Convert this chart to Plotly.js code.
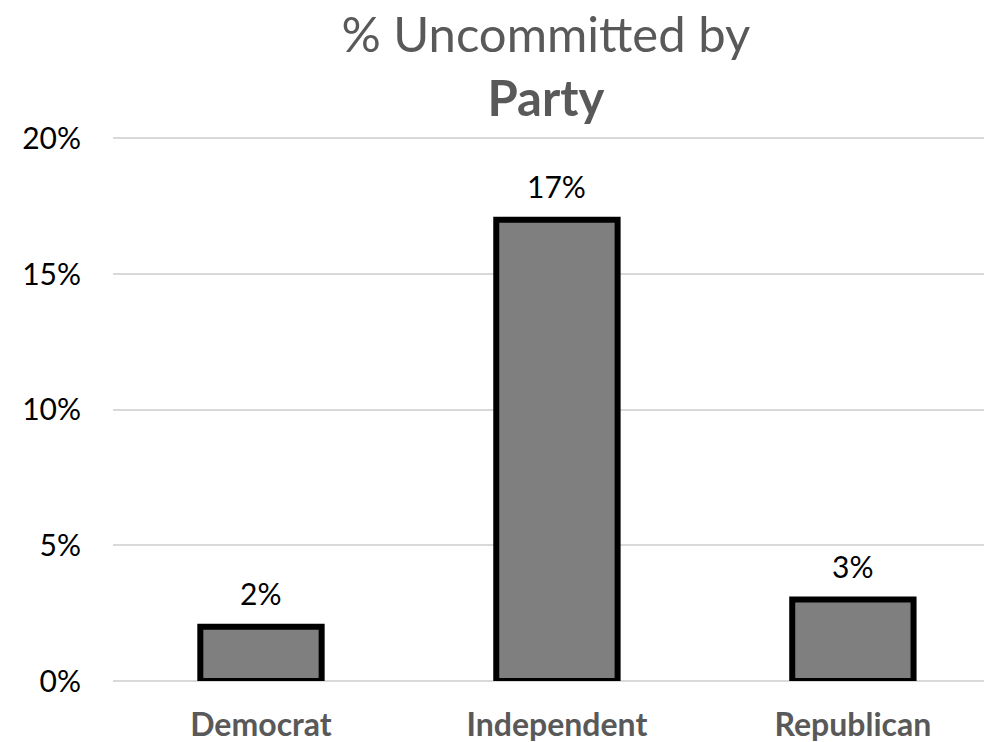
<!DOCTYPE html>
<html>
<head>
<meta charset="utf-8">
<script src="https://cdn.plot.ly/plotly-3.0.1.min.js"></script>
<style>html,body{margin:0;padding:0;background:#fff;}#chart{width:984px;height:742px;}</style>
</head>
<body>
<div id="chart"></div>
<script>
const categories = ["Democrat", "Independent", "Republican"];
const values = [2, 17, 3];
const labels = ["2%", "17%", "3%"];
const yTickVals = [0, 5, 10, 15, 20];
const yTickText = ["0%", "5%", "10%", "15%", "20%"];

const trace = {
  type: "bar",
  x: categories,
  y: values,
  width: 0.41,
  marker: { color: "#7f7f7f", line: { color: "#000000", width: 6 } },
  hoverinfo: "skip"
};

const annotations = categories.map((c, i) => ({
  x: c, y: values[i], xref: "x", yref: "y",
  text: labels[i], showarrow: false, yanchor: "bottom", yshift: 14,
  font: { family: "Lato, 'Open Sans', sans-serif", size: 30, color: "#000000" }
}));

const layout = {
  width: 984, height: 742,
  margin: { l: 113, r: 0, t: 137, b: 61 },
  paper_bgcolor: "#ffffff", plot_bgcolor: "#ffffff",
  showlegend: false,
  title: {
    text: "% Uncommitted by<br><b>Party</b>",
    font: { family: "Lato, 'Open Sans', sans-serif", size: 49, color: "#595959" },
    x: 0.497, xref: "paper", xanchor: "center",
    y: 0.93, yref: "container", yanchor: "top"
  },
  xaxis: {
    range: [-0.5, 2.443],
    showgrid: false, zeroline: false, showline: false,
    ticks: "",
    tickfont: { family: "Lato, 'Open Sans', sans-serif", size: 32, color: "#595959", weight: "bold" },
    ticklabelstandoff: 22
  },
  yaxis: {
    range: [0, 20.05],
    tickvals: yTickVals, ticktext: yTickText,
    showgrid: true, gridcolor: "#d9d9d9", gridwidth: 2,
    zeroline: true, zerolinecolor: "#d9d9d9", zerolinewidth: 2,
    showline: false, ticks: "",
    tickfont: { family: "Lato, 'Open Sans', sans-serif", size: 30, color: "#000000" },
    ticklabelstandoff: 31
  },
  annotations: annotations
};

Plotly.newPlot("chart", [trace], layout, { displayModeBar: false, staticPlot: true });
</script>
</body>
</html>
